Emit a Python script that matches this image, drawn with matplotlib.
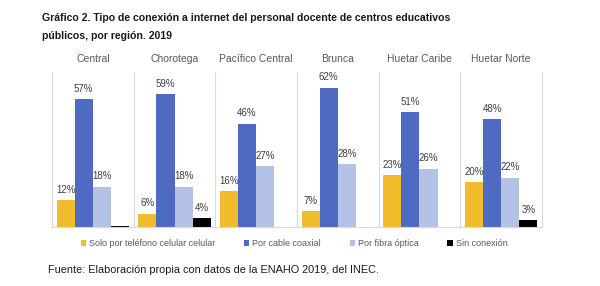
import matplotlib
matplotlib.use("Agg")
import matplotlib.pyplot as plt
from matplotlib.patches import Patch

regions = ["Central", "Chorotega", "Pacífico Central", "Brunca", "Huetar Caribe", "Huetar Norte"]
series = ["Solo por teléfono celular celular", "Por cable coaxial", "Por fibra óptica", "Sin conexión"]
celular = [12, 6, 16, 7, 23, 20]
coaxial = [57, 59, 46, 62, 51, 48]
fibra = [18, 18, 27, 28, 26, 22]
sin_conexion = [0.5, 4, 0, 0, 0, 3]
labels_sin = [None, "4%", None, None, None, "3%"]

colors = ["#F0BC2C", "#4F6BC1", "#B4C2E6", "#000000"]

plt.rcParams['font.family'] = ['Liberation Sans', 'DejaVu Sans']
fig = plt.figure(figsize=(6, 2.86), dpi=100)
left, right, bottom, top = 52/600, 542/600, 1-227/286, 1-72/286
n = len(regions)
w = (right-left)/n
data = [celular, coaxial, fibra, sin_conexion]
for i, reg in enumerate(regions):
    ax = fig.add_axes([left + i*w, bottom, w, top-bottom])
    vals = [d[i] for d in data]
    bars = ax.bar(range(4), vals, width=1.0, color=colors)
    for j, (b, v) in enumerate(zip(bars, vals)):
        if j < 3:
            lab = f"{v:.0f}%"
        else:
            lab = labels_sin[i]
        if lab and v > 0:
            ax.text(b.get_x()+b.get_width()/2, v+2.4, lab, ha="center", va="bottom",
                    fontsize=7, color="#404040")
    ax.set_xlim(-0.75, 3.75)
    ax.set_ylim(0, 69)
    ax.set_xticks([]); ax.set_yticks([])
    ax.spines['top'].set_visible(False)
    for s in ['left', 'right', 'bottom']:
        ax.spines[s].set_color("#D9D9D9")
        ax.spines[s].set_linewidth(0.8)
    if i > 0:
        ax.spines['left'].set_visible(False)
    ax.patch.set_alpha(0)
    ax.text(0.5, 1.05, reg, transform=ax.transAxes, ha="center", va="bottom",
            fontsize=7.5, color="#595959")

fig.text(42/600, 1-18/286, "Gráfico 2. Tipo de conexión a internet del personal docente de centros educativos",
         fontsize=7.6, fontweight="bold", color="#1a1a1a", va="center", ha="left")
fig.text(42/600, 1-36/286, "públicos, por región. 2019",
         fontsize=7.6, fontweight="bold", color="#1a1a1a", va="center", ha="left")

handles = [Patch(facecolor=c, edgecolor="none") for c in colors]
fig.legend(handles, series, loc="center", bbox_to_anchor=(0.49, 1-244/286), ncol=4,
           frameon=False, fontsize=6.5, handlelength=0.6, handleheight=0.6,
           handletextpad=0.3, columnspacing=3.2, labelcolor="#595959")

fig.text(48/600, 1-270/286, "Fuente: Elaboración propia con datos de la ENAHO 2019, del INEC.",
         fontsize=7.8, color="#1a1a1a", va="center", ha="left")

fig.savefig("out.png", dpi=100)
